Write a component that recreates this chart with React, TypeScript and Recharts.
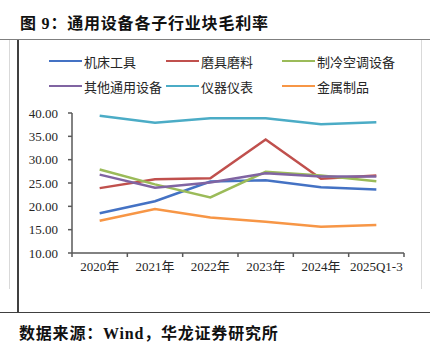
import React from "react";
import { Legend, Line, LineChart, XAxis, YAxis } from "recharts";

const categories = ["2020年", "2021年", "2022年", "2023年", "2024年", "2025Q1-3"];
const machineTools = [18.5, 21.1, 25.3, 25.6, 24.1, 23.6];
const abrasives = [23.9, 25.8, 26.0, 34.3, 25.9, 26.6];
const refrigeration = [27.9, 24.7, 21.9, 27.4, 26.6, 25.4];
const otherGeneral = [26.8, 24.0, 25.1, 27.1, 26.4, 26.4];
const instruments = [39.4, 37.9, 38.9, 38.9, 37.6, 38.0];
const metalProducts = [16.9, 19.4, 17.6, 16.7, 15.6, 16.0];
const yTicks = [10, 15, 20, 25, 30, 35, 40];

const series = [
	{ key: "机床工具", values: machineTools, color: "#4472C4" },
	{ key: "磨具磨料", values: abrasives, color: "#C0504D" },
	{ key: "制冷空调设备", values: refrigeration, color: "#9BBB59" },
	{ key: "其他通用设备", values: otherGeneral, color: "#8064A2" },
	{ key: "仪器仪表", values: instruments, color: "#4BACC6" },
	{ key: "金属制品", values: metalProducts, color: "#F79646" },
];

const data = categories.map((name, i) => {
	const row: Record<string, any> = { name };
	series.forEach((s) => {
		row[s.key] = s.values[i];
	});
	return row;
});

const serif = "'Liberation Serif', 'Noto Sans CJK SC', serif";
const axisColor = "#595959";
const textColor = "#262626";

// legend laid out in 3 columns, 2 rows like the original (keeps series order)
const LegendBox = () => {
	const cols = [0, 117, 233];
	return (
		<div style={{ position: "relative", width: 400, height: 40 }}>
			{series.map((s, i) => (
				<div
					key={s.key}
					style={{
						position: "absolute",
						left: cols[i % 3],
						top: Math.floor(i / 3) * 25,
						display: "flex",
						alignItems: "center",
						height: 16,
						whiteSpace: "nowrap",
					}}>
					<span
						style={{
							display: "inline-block",
							width: 33,
							height: 2.5,
							background: s.color,
							marginRight: 2,
						}}
					/>
					<span style={{ fontSize: 13, color: textColor, fontFamily: serif }}>
						{s.key}
					</span>
				</div>
			))}
		</div>
	);
};

// category label plus tick marks on the band edges
const XTick = (props: any) => {
	const { x, y, payload, index, visibleTicksCount } = props;
	const half = payload && payload.offset ? payload.offset : 0;
	const top = y - 9;
	return (
		<g>
			<line x1={x - half} y1={top} x2={x - half} y2={top + 4} stroke={axisColor} strokeWidth={1.5} />
			{index === visibleTicksCount - 1 && (
				<line x1={x + half} y1={top} x2={x + half} y2={top + 4} stroke={axisColor} strokeWidth={1.5} />
			)}
			<text
				x={x}
				y={y}
				dy="0.71em"
				textAnchor="middle"
				fontSize={13}
				fill={textColor}
				fontFamily={serif}>
				{payload.value}
			</text>
		</g>
	);
};

const App = () => {
	return (
		<div
			style={{
				position: "absolute",
				left: 0,
				top: 0,
				width: 439,
				height: 347,
				background: "#fff",
				fontFamily: serif,
			}}>
			<div
				style={{
					position: "absolute",
					left: 20,
					top: 10,
					fontSize: 16,
					fontWeight: "bold",
					letterSpacing: 0.8,
					color: "#111",
					whiteSpace: "nowrap",
				}}>
				图 9：通用设备各子行业块毛利率
			</div>
			{/* frame */}
			<div style={{ position: "absolute", left: 0, top: 39, width: 430, height: 1, background: "#7f7f7f" }} />
			<div style={{ position: "absolute", left: 9, top: 40, width: 1, height: 249, background: "#d9d9d9" }} />
			<div style={{ position: "absolute", left: 421, top: 40, width: 1, height: 249, background: "#d9d9d9" }} />
			<div style={{ position: "absolute", left: 17, top: 40, width: 1.5, height: 273, background: "#404040" }} />
			<div style={{ position: "absolute", left: 0, top: 312, width: 430, height: 1, background: "#404040" }} />

			<div style={{ position: "absolute", left: 0, top: 0 }}>
				<LineChart
					width={439}
					height={347}
					data={data}
					margin={{ top: 113, right: 35, bottom: 64, left: 12 }}>
					<XAxis
						dataKey="name"
						scale="band"
						height={30}
						tickLine={false}
						tickSize={0}
						tickMargin={9}
						interval={0}
						stroke={axisColor}
						strokeWidth={1.5}
						tick={<XTick />}
					/>
					<YAxis
						domain={[10, 40]}
						ticks={yTicks}
						width={60}
						tickSize={4}
						tickMargin={10}
						interval={0}
						tickFormatter={(v: number) => v.toFixed(2)}
						stroke={axisColor}
						strokeWidth={1.5}
						tick={{ fontSize: 13, fill: textColor, fontFamily: serif }}
					/>
					<Legend
						layout="horizontal"
						verticalAlign="middle"
						align="center"
						wrapperStyle={{ top: 53, left: 49, width: 400 }}
						content={<LegendBox />}
					/>
					{series.map((s) => (
						<Line
							key={s.key}
							type="linear"
							dataKey={s.key}
							stroke={s.color}
							strokeWidth={2.5}
							dot={false}
							isAnimationActive={false}
						/>
					))}
				</LineChart>
			</div>

			<div
				style={{
					position: "absolute",
					left: 19,
					top: 320,
					fontSize: 16,
					fontWeight: "bold",
					letterSpacing: 0.8,
					color: "#111",
					whiteSpace: "nowrap",
				}}>
				数据来源：Wind，华龙证券研究所
			</div>
		</div>
	);
};

export default App;
